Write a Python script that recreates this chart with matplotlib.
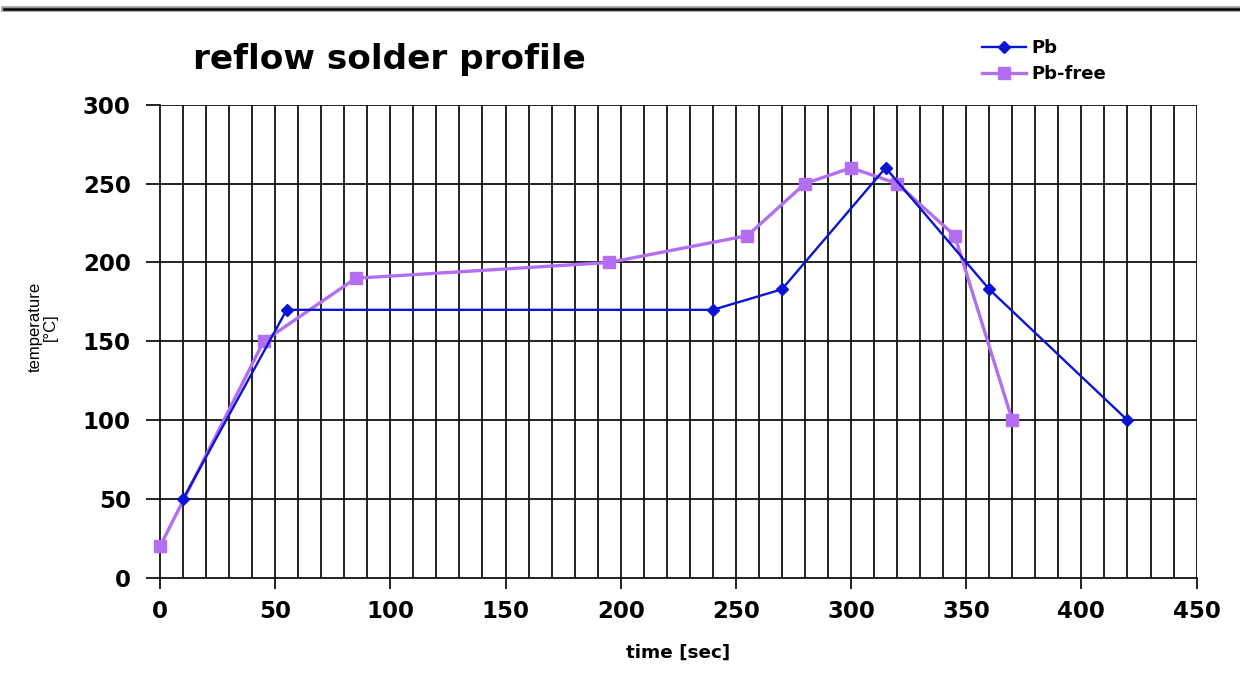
import matplotlib
matplotlib.use("Agg")
import matplotlib.pyplot as plt
from matplotlib.lines import Line2D
import numpy as np

# Data
pb_time = [10, 55, 240, 270, 315, 360, 420]
pb_temp = [50, 170, 170, 183, 260, 183, 100]
pbfree_time = [0, 45, 85, 195, 255, 280, 300, 320, 345, 370]
pbfree_temp = [20, 150, 190, 200, 217, 250, 260, 250, 217, 100]
x_ticks = [0, 50, 100, 150, 200, 250, 300, 350, 400, 450]
y_ticks = [0, 50, 100, 150, 200, 250, 300]

fig = plt.figure(figsize=(12.4, 6.92), dpi=100)
ax = fig.add_axes([0.129, 0.1647, 0.836, 0.684])

ax.set_xlim(0, 450)
ax.set_ylim(0, 300)

# gridlines
for xv in np.arange(10, 451, 10):
    ax.axvline(xv, color="#111111", lw=1.3, zorder=1)
for yv in y_ticks[1:]:
    ax.axhline(yv, color="#111111", lw=1.3, zorder=1)

pb_color = "#0a14d2"
pbf_color = "#b46ef2"
ax.plot(pbfree_time, pbfree_temp, color=pbf_color, lw=2.4, marker="s", ms=8,
        label="Pb-free", zorder=3, clip_on=False)
ax.plot(pb_time, pb_temp, color=pb_color, lw=1.7, marker="D", ms=6,
        label="Pb", zorder=4, clip_on=False)

for s in ["top", "right"]:
    ax.spines[s].set_visible(False)
ax.spines["left"].set_color("#111111")
ax.spines["bottom"].set_color("#111111")
ax.spines["left"].set_linewidth(1.3)
ax.spines["bottom"].set_linewidth(1.3)

ax.set_xticks(x_ticks)
ax.set_yticks(y_ticks)
ax.tick_params(axis="x", direction="out", length=8, width=1.3, color="#111111",
               labelsize=16.5, pad=8)
ax.tick_params(axis="y", direction="out", length=10, width=1.3, color="#111111",
               labelsize=16.5, pad=11)
for lab in ax.get_xticklabels() + ax.get_yticklabels():
    lab.set_fontweight("bold")
    lab.set_family("DejaVu Sans")

fig.text(678 / 1240, 1 - 653 / 692, "time [sec]", fontsize=13.2, fontweight="bold",
         family="DejaVu Sans", ha="center", va="center")
fig.text(43 / 1240, 1 - 327 / 692, "temperature\n[°C]", fontsize=12,
         family="Liberation Sans", ha="center", va="center", rotation=90,
         linespacing=1.0, multialignment="center")

fig.text(193 / 1240, 1 - 60 / 692, "reflow solder profile", fontsize=24.7, fontweight="bold",
         family="DejaVu Sans", ha="left", va="center")

handles = [Line2D([], [], color=pb_color, lw=1.7, marker="D", ms=6),
           Line2D([], [], color=pbf_color, lw=2.4, marker="s", ms=8)]
fig.legend(handles, ["Pb", "Pb-free"], loc="upper left", bbox_to_anchor=(0.779, 0.967),
           frameon=False, prop={"family": "DejaVu Sans", "weight": "bold", "size": 13},
           handlelength=2.4, handletextpad=0.3, labelspacing=0.45)

# top double rule
fig.add_artist(Line2D([0.003, 1.0], [0.987, 0.987], transform=fig.transFigure,
                      color="#999999", lw=4))
fig.add_artist(Line2D([0.003, 1.0], [0.987, 0.987], transform=fig.transFigure,
                      color="#000000", lw=1.8))

fig.savefig("out.png", dpi=100, facecolor="white")
